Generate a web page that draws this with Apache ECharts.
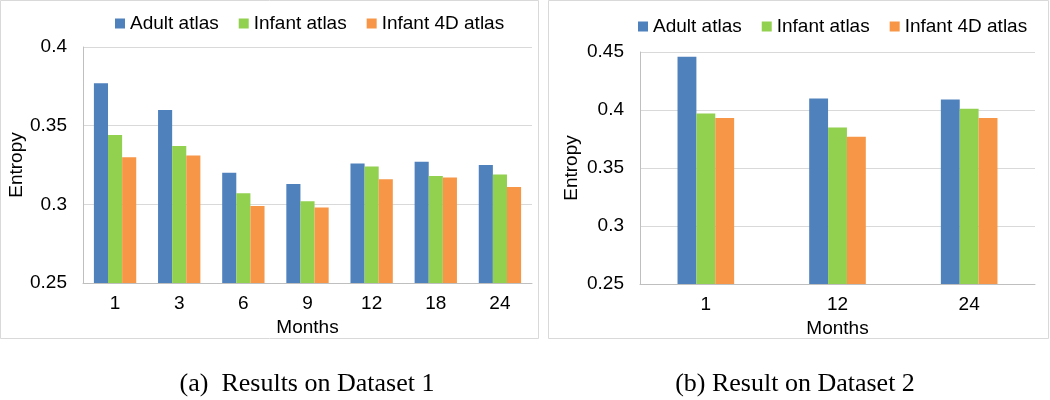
<!DOCTYPE html>
<html><head><meta charset="utf-8">
<script src="https://cdn.jsdelivr.net/npm/echarts@6/dist/echarts.min.js"></script>
<style>html,body{margin:0;padding:0;background:#fff}#c{width:1050px;height:400px}</style>
</head><body><div id="c"></div>
<script>
const seriesNames = ['Adult atlas', 'Infant atlas', 'Infant 4D atlas'];
const colors = ['#4F81BD', '#92D050', '#F79646'];
// Dataset 1
const months1 = ['1', '3', '6', '9', '12', '18', '24'];
const adult1 = [0.377, 0.360, 0.320, 0.313, 0.326, 0.327, 0.325];
const infant1 = [0.344, 0.337, 0.307, 0.302, 0.324, 0.318, 0.319];
const infant4d1 = [0.330, 0.331, 0.299, 0.298, 0.316, 0.317, 0.311];
const yTicks1 = { min: 0.25, max: 0.4, interval: 0.05 };
// Dataset 2
const months2 = ['1', '12', '24'];
const adult2 = [0.446, 0.410, 0.409];
const infant2 = [0.397, 0.385, 0.401];
const infant4d2 = [0.393, 0.377, 0.393];
const yTicks2 = { min: 0.25, max: 0.45, interval: 0.05 };
const captions = ['(a)  Results on Dataset 1', '(b) Result on Dataset 2'];

const FONT = 'Liberation Sans';
const FS = 19;
const chart = echarts.init(document.getElementById('c'), null, { renderer: 'canvas' });

function xAxis(idx, data) {
  return {
    type: 'category', gridIndex: idx, data: data,
    axisLine: { show: true, lineStyle: { color: '#bfbfbf', width: 1 } },
    axisTick: { show: false },
    axisLabel: { color: '#000', fontSize: FS, fontFamily: FONT, margin: 11 },
    name: 'Months', nameLocation: 'middle', nameGap: 35,
    nameTextStyle: { color: '#000', fontSize: FS, fontFamily: FONT }
  };
}
function yAxis(idx, t, gap) {
  return {
    type: 'value', gridIndex: idx, min: t.min, max: t.max, interval: t.interval,
    axisLine: { show: true, lineStyle: { color: '#bfbfbf', width: 1 } },
    axisTick: { show: false },
    splitLine: { show: true, lineStyle: { color: '#d9d9d9', width: 1 } },
    axisLabel: { color: '#000', fontSize: FS, fontFamily: FONT, margin: 16 },
    name: 'Entropy', nameLocation: 'middle', nameGap: gap, nameRotate: 90,
    nameTextStyle: { color: '#000', fontSize: FS, fontFamily: FONT }
  };
}
function bars(idx, arrs, catGap) {
  return arrs.map((d, i) => ({
    type: 'bar', name: seriesNames[i], xAxisIndex: idx, yAxisIndex: idx,
    data: d, barGap: '0%', barCategoryGap: catGap,
    itemStyle: { color: colors[i] }, animation: false
  }));
}
function legend(left, top) {
  return {
    data: seriesNames, left: left, top: top, itemWidth: 10, itemHeight: 10,
    itemGap: 20, icon: 'rect', padding: 0,
    textStyle: { color: '#000', fontSize: FS, fontFamily: FONT }
  };
}

chart.setOption({
  animation: false,
  backgroundColor: '#fff',
  color: colors,
  grid: [
    { left: 83, right: 518, top: 47, bottom: 117 },
    { left: 640, right: 15, top: 52, bottom: 116 }
  ],
  xAxis: [xAxis(0, months1), xAxis(1, months2)],
  yAxis: [yAxis(0, yTicks1, 57), yAxis(1, yTicks2, 59)],
  legend: [legend(115, 14), legend(638, 17)],
  series: [].concat(
    bars(0, [adult1, infant1, infant4d1], '34%'),
    bars(1, [adult2, infant2, infant4d2], '57%')
  ),
  title: [
    { text: captions[0], left: 307, top: 371, textAlign: 'center', padding: 0,
      textStyle: { fontFamily: 'Liberation Serif', fontSize: 26, fontWeight: 'normal', color: '#000' } },
    { text: captions[1], left: 795, top: 371, textAlign: 'center', padding: 0,
      textStyle: { fontFamily: 'Liberation Serif', fontSize: 26, fontWeight: 'normal', color: '#000' } }
  ],
  graphic: [
    { type: 'rect', shape: { x: 0.5, y: 0.5, width: 538, height: 338 }, style: { fill: 'none', stroke: '#d9d9d9', lineWidth: 1 }, z: -1 },
    { type: 'rect', shape: { x: 548.5, y: 0.5, width: 500, height: 338 }, style: { fill: 'none', stroke: '#d9d9d9', lineWidth: 1 }, z: -1 }
  ]
});
</script></body></html>
